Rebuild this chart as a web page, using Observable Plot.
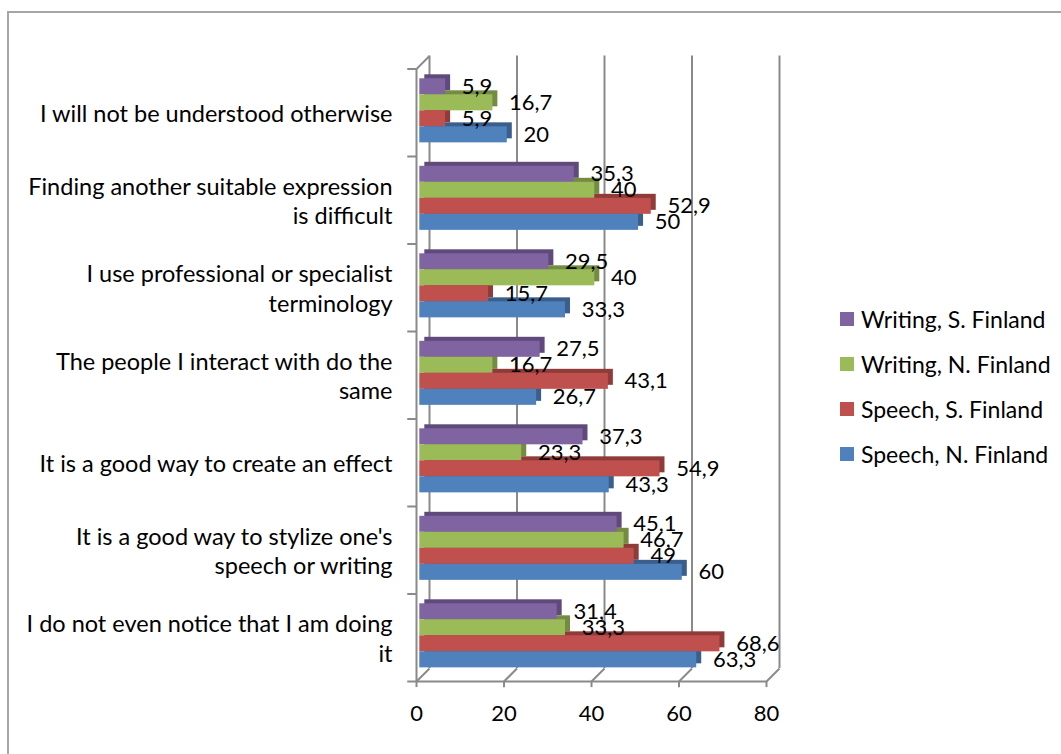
<!DOCTYPE html>
<html>
<head>
<meta charset="utf-8">
<script src="https://cdn.jsdelivr.net/npm/d3@7"></script>
<script src="https://cdn.jsdelivr.net/npm/@observablehq/plot@0.6"></script>
<style>
  html, body { margin: 0; padding: 0; background: #fff; overflow: hidden; }
  #wrap { position: relative; width: 1061px; height: 754px; font-family: Lato, "Open Sans", sans-serif; }
  #border { position: absolute; left: 7px; top: 11px; width: 1200px; height: 900px; border: 2px solid #a6a6a6; box-sizing: border-box; }
  #chart { position: absolute; left: 0; top: 0; }
  #legend { position: absolute; left: 840px; top: 296px; font-size: 23px; color: #000; }
  #legend .row { display: flex; align-items: center; height: 45px; }
  #legend .sw { width: 14px; height: 14px; margin-right: 7px; }
</style>
</head>
<body>
<div id="wrap">
  <div id="border"></div>
  <div id="chart"></div>
  <div id="legend"></div>
</div>
<script>
// Reasons for mixing languages, top to bottom
const categories = [
  "I will not be understood otherwise",
  "Finding another suitable expression\nis difficult",
  "I use professional or specialist\nterminology",
  "The people I interact with do the\nsame",
  "It is a good way to create an effect",
  "It is a good way to stylize one's\nspeech or writing",
  "I do not even notice that I am doing\nit"
];

// Series, in the order they are stacked within each group (top to bottom)
const seriesNames = ["Writing, S. Finland", "Writing, N. Finland", "Speech, S. Finland", "Speech, N. Finland"];
const writingSouth = [5.9, 35.3, 29.5, 27.5, 37.3, 45.1, 31.4];
const writingNorth = [16.7, 40, 40, 16.7, 23.3, 46.7, 33.3];
const speechSouth  = [5.9, 52.9, 15.7, 43.1, 54.9, 49, 68.6];
const speechNorth  = [20, 50, 33.3, 26.7, 43.3, 60, 63.3];

const xTicks = [0, 20, 40, 60, 80];

const faceColors = ["#8064A2", "#9BBB59", "#C0504D", "#4F81BD"];
const sideColors = ["#5F4A7B", "#738B42", "#8F3B39", "#3A5F8D"];
const gridColor = "#8a8a8a";

const seriesValues = [writingSouth, writingNorth, speechSouth, speechNorth];
const rows = categories.flatMap((category, ci) =>
  seriesValues.map((values, si) => ({category, ci, si, series: seriesNames[si], value: values[ci]}))
);

// Layout inside each category slot (in y units, one unit per category)
const groupPad = 0.112;
const barH = 0.183;
// Oblique depth of the chart box, in data units
const depth = {x: 2.97, y: 0.149};
const barTop = d => d.ci + groupPad + d.si * barH;
const fmt = v => String(v).replace(".", ",");

const chart = Plot.plot({
  width: 1061,
  height: 754,
  marginLeft: 416,
  marginRight: 295,
  marginTop: 68.5,
  marginBottom: 73,
  x: {domain: [0, 80], axis: null},
  y: {domain: [0, 7], reverse: true, axis: null},
  color: {domain: seriesNames, range: faceColors},
  style: {fontFamily: "Lato, 'Open Sans', sans-serif", fontSize: "22px", color: "#000", background: "transparent", overflow: "visible"},
  marks: [
    // back wall gridlines
    Plot.ruleX(xTicks, {x: d => d + depth.x, y1: -depth.y, y2: 7 - depth.y, stroke: gridColor, strokeWidth: 2}),
    // floor: front edge and receding edges
    Plot.ruleY([7], {x1: 0, x2: 80, stroke: gridColor, strokeWidth: 2}),
    Plot.link(xTicks, {x1: d => d, y1: 7, x2: d => d + depth.x, y2: 7 - depth.y, stroke: gridColor, strokeWidth: 2}),
    // side wall: front edge and top receding edge
    Plot.ruleX([0], {y1: 0, y2: 7, stroke: gridColor, strokeWidth: 2}),
    Plot.link([0], {x1: 0, y1: 0, x2: depth.x, y2: -depth.y, stroke: gridColor, strokeWidth: 2}),
    // category tick marks and value tick marks
    Plot.ruleY(d3.range(categories.length + 1), {y: d => d, x1: -2, x2: 0, stroke: gridColor, strokeWidth: 2}),
    Plot.ruleX(xTicks, {x: d => d, y1: 7, y2: 7.07, stroke: gridColor, strokeWidth: 2}),
    // bar depth (top and side faces)
    Plot.rectX(rows, {x1: 0, x2: "value", y1: barTop, y2: d => barTop(d) + barH, fill: d => sideColors[d.si], dx: 8.3, dy: -4}),
    // bar front faces
    Plot.rectX(rows, {x1: 0, x2: "value", y1: barTop, y2: d => barTop(d) + barH, fill: "series", dx: 3.3}),
    // value labels
    Plot.text(rows, {x: "value", y: d => barTop(d) + barH / 2, text: d => fmt(d.value), dx: 19.5, textAnchor: "start", fill: "#000", fontSize: 22}),
    // category labels
    Plot.text(categories, {x: 0, y: (d, i) => i + 0.5, text: d => d, textAnchor: "end", dx: -24, lineHeight: 1.25, fill: "#000", fontSize: 23.5}),
    // value axis labels
    Plot.text(xTicks, {x: d => d, y: 7, dy: 32, text: d => String(d), fill: "#000", fontSize: 22})
  ]
});
document.getElementById("chart").appendChild(chart);

// Legend
const legend = document.getElementById("legend");
seriesNames.forEach((name, i) => {
  const row = document.createElement("div");
  row.className = "row";
  const sw = document.createElement("span");
  sw.className = "sw";
  sw.style.background = faceColors[i];
  const label = document.createElement("span");
  label.textContent = name;
  row.appendChild(sw);
  row.appendChild(label);
  legend.appendChild(row);
});
</script>
</body>
</html>
